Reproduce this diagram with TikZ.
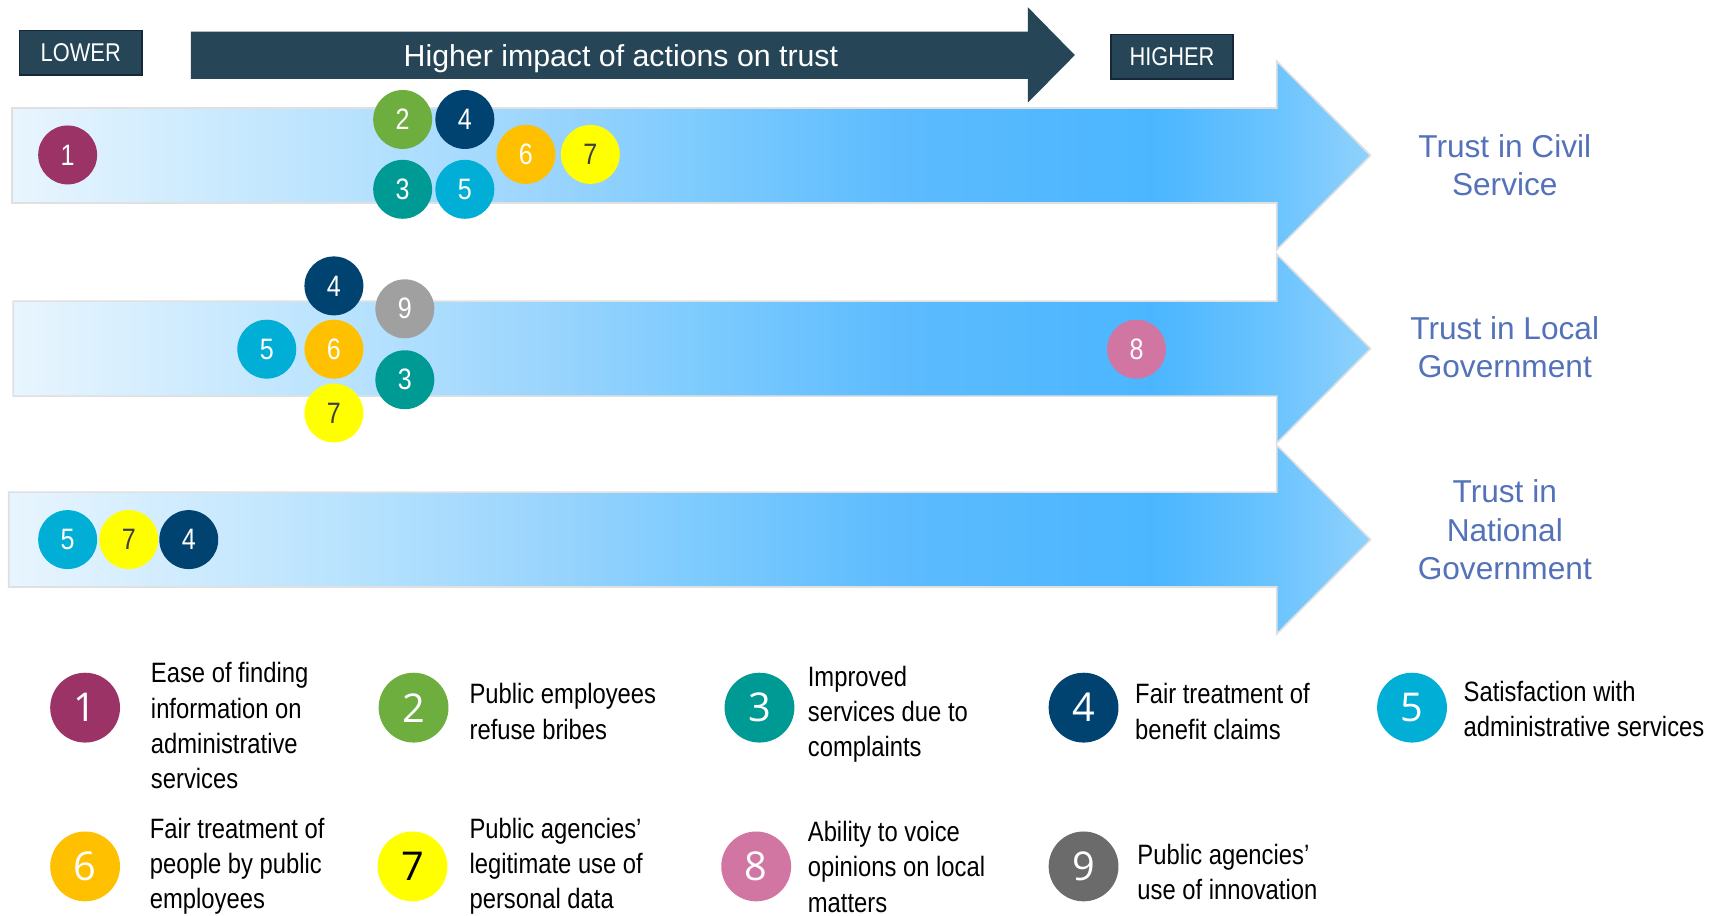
\documentclass[tikz,border=0pt]{standalone}
\usepackage{fontspec}
\setmainfont{Liberation Sans}
\newfontfamily\narrow[FakeStretch=0.85]{Liberation Sans}
\newfontfamily\digits{Open Sans}
\usepackage{tikz}

\newlength\px
\setlength\px{0.02cm}

\definecolor{slate}{RGB}{38,69,86}
\definecolor{slatedark}{RGB}{20,40,58}
\definecolor{labelblue}{RGB}{84,114,186}
\definecolor{cOne}{RGB}{155,51,102}
\definecolor{cTwo}{RGB}{109,174,62}
\definecolor{cThree}{RGB}{0,154,149}
\definecolor{cFour}{RGB}{0,67,112}
\definecolor{cFive}{RGB}{0,174,214}
\definecolor{cSix}{RGB}{255,192,0}
\definecolor{cSeven}{RGB}{255,255,0}
\definecolor{cEight}{RGB}{209,117,163}
\definecolor{cNine}{RGB}{160,160,160}
\definecolor{cNineDark}{RGB}{107,107,107}
\definecolor{b0}{HTML}{E8F5FE}
\definecolor{b1}{HTML}{B2E0FE}
\definecolor{b2}{HTML}{9AD4FD}
\definecolor{b3}{HTML}{7DCBFE}
\definecolor{b4}{HTML}{5DBBFE}
\definecolor{b5}{HTML}{4BB6FF}
\definecolor{b6}{HTML}{6CC4FE}
\definecolor{b7}{HTML}{90D2FD}

\pgfdeclarehorizontalshading{band}{100bp}{color(0bp)=(b0); color(25bp)=(b0); color(38.9bp)=(b1); color(44.8bp)=(b2); color(50.3bp)=(b3); color(57.65bp)=(b4); color(67bp)=(b5); color(71.55bp)=(b6); color(75bp)=(b7); color(100bp)=(b7)}

\begin{document}
\begin{tikzpicture}[x=0.02cm, y=-0.02cm,
  tag/.style={fill=slate, draw=slatedark, line width=1.5\px, minimum width=112\px, minimum height=41\px, inner sep=0, text=white, font=\narrow\fontsize{13.4}{16}\selectfont},
  mk/.style={circle, fill=#1, minimum size=54\px, inner sep=0, text=white, font=\narrow\fontsize{15.4}{17}\selectfont},
  leg/.style={circle, fill=#1, minimum size=64\px, inner sep=0, text=white, font=\digits\fontsize{20.7}{24}\selectfont},
  desc/.style={anchor=west, align=left, inner sep=0, font=\narrow\fontsize{14.6}{18.4}\selectfont},
  trust/.style={align=center, text=labelblue, font=\fontsize{16.5}{19.9}\selectfont}]
\useasboundingbox (0,0) rectangle (1568,839.4);
\fill[white] (0,0) rectangle (1568,839.4);

% scale on top
\fill[slate] (175,29) -- (942,29) -- (942,6.7) -- (985,50.5) -- (942,94) -- (942,72.4) -- (175,72.4) -- cycle;
\node[text=white, font=\fontsize{15.8}{19}\selectfont] (impact) at (569,53.5) {Higher impact of actions on trust};
\node[tag] (lower) at (74,48.5) {LOWER};
\node[tag] (higher) at (1074,52) {HIGHER};

% three trust arrows
\foreach \y/\x in {142.5/11, 319.5/12, 494.5/8}
  \shadedraw[shading=band, draw=black!12, line width=1.5\px] (\x,\y-43.5) -- (1170,\y-43.5) -- (1170,\y-86.5) -- (1256,\y) -- (1170,\y+86.5) -- (1170,\y+43.5) -- (\x,\y+43.5) -- cycle;

\node[trust] (civil) at (1379,151.5) {Trust in Civil\\Service};
\node[trust] (local) at (1379,318.5) {Trust in Local\\Government};
\node[trust] (national) at (1379,485.5) {Trust in\\National\\Government};

% civil service
\node[mk=cOne] (cs1) at (62,142) {1};
\node[mk=cTwo] (cs2) at (369,109.5) {2};
\node[mk=cFour] (cs4) at (426,109.5) {4};
\node[mk=cThree] (cs3) at (369,173.5) {3};
\node[mk=cFive] (cs5) at (426,173.5) {5};
\node[mk=cSix] (cs6) at (482,141.5) {6};
\node[mk=cSeven, text=black!75] (cs7) at (541,141.5) {7};

% local government
\node[mk=cFour] (lg4) at (306,262) {4};
\node[mk=cNine] (lg9) at (371,283) {9};
\node[mk=cFive] (lg5) at (244.5,320) {5};
\node[mk=cSix] (lg6) at (306,320) {6};
\node[mk=cThree] (lg3) at (371,348) {3};
\node[mk=cSeven, text=black!75] (lg7) at (306,378.5) {7};
\node[mk=cEight] (lg8) at (1041.5,320) {8};

% national government
\node[mk=cFive] (ng5) at (62,494.5) {5};
\node[mk=cSeven, text=black!75] (ng7) at (118,494.5) {7};
\node[mk=cFour] (ng4) at (173,494.5) {4};

% legend
\node[leg=cOne] (k1) at (78,648.5) {1};
\node[desc] (t1) at (138,665) {Ease of finding\\information on\\administrative\\services};
\node[leg=cTwo] (k2) at (379,648.5) {2};
\node[desc] (t2) at (430,652) {Public employees\\refuse bribes};
\node[leg=cThree] (k3) at (696,648.5) {3};
\node[desc] (t3) at (740,654.5) {Improved\\services due to\\complaints};
\node[leg=cFour] (k4) at (993,648.5) {4};
\node[desc] (t4) at (1040,652) {Fair treatment of\\benefit claims};
\node[leg=cFive] (k5) at (1294,648.5) {5};
\node[desc] (t5) at (1341,649.5) {Satisfaction with\\administrative services};
\node[leg=cSix] (k6) at (78,794) {6};
\node[desc] (t6) at (137,794) {Fair treatment of\\people by public\\employees};
\node[leg=cSeven, text=black] (k7) at (378,794) {7};
\node[desc] (t7) at (430,794) {Public agencies’\\legitimate use of\\personal data};
\node[leg=cEight] (k8) at (693,794) {8};
\node[desc] (t8) at (740,794.5) {Ability to voice\\opinions on local\\matters};
\node[leg=cNineDark] (k9) at (993,794) {9};
\node[desc] (t9) at (1042,799) {Public agencies’\\use of innovation};
\end{tikzpicture}
\end{document}
